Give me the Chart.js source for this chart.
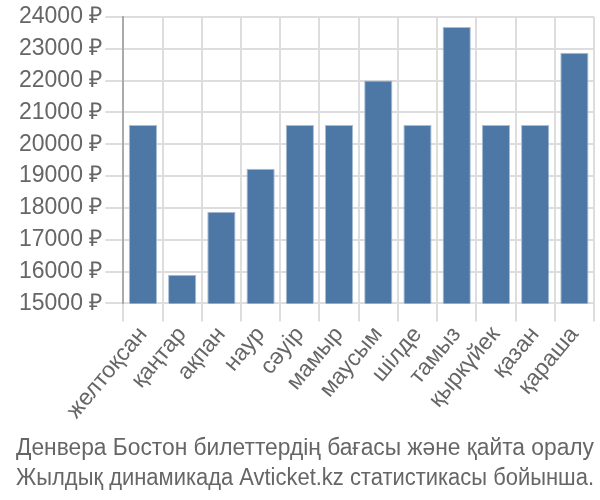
<!DOCTYPE html>
<html lang="kk">
<head>
    <meta charset="UTF-8">
    <title>Денвера Бостон</title>
    <script src="https://cdn.jsdelivr.net/npm/chart.js"></script>
    <style>
        body { margin: 0; padding: 0; background: #fff; }
        #wrap { width: 600px; height: 500px; }
    </style>
</head>
<body>
    <div id="wrap"><canvas id="priceChart"></canvas></div>
    <script>
    const months = ['желтоқсан', 'қаңтар', 'ақпан', 'наур', 'сәуір', 'мамыр',
                    'маусым', 'шілде', 'тамыз', 'қыркүйек', 'қазан', 'қараша'];
    const prices = [20600, 15900, 17880, 19230, 20600, 20600,
                    22000, 20600, 23680, 20600, 20600, 22870];
    const titleLines = ['Денвера Бостон билеттердің бағасы және қайта оралу',
                        'Жылдық динамикада Avticket.kz статистикасы бойынша.'];

    const fam = 'Liberation Sans, Arial, sans-serif';
    const ctx = document.getElementById('priceChart').getContext('2d');
    new Chart(ctx, {
        type: 'bar',
        data: {
            labels: months,
            datasets: [{
                data: prices,
                backgroundColor: '#4d78a6',
                borderColor: '#a9bdd3',
                borderWidth: 1,
                categoryPercentage: 0.72,
                barPercentage: 1
            }]
        },
        options: {
            responsive: true,
            maintainAspectRatio: false,
            animation: false,
            layout: { padding: { top: 4, right: 6, left: 16, bottom: 6 } },
            plugins: {
                legend: { display: false },
                tooltip: { enabled: false },
                title: {
                    display: true,
                    position: 'bottom',
                    text: titleLines,
                    color: '#666',
                    font: { family: fam, size: 23, weight: 'normal', lineHeight: 1.3 },
                    padding: { top: 10, bottom: 0 }
                }
            },
            scales: {
                x: {
                    grid: { color: '#ddd', lineWidth: 2, tickLength: 18, offset: true },
                    border: { color: '#ddd' },
                    ticks: {
                        color: '#666',
                        font: { family: fam, size: 23 },
                        maxRotation: 50, minRotation: 50,
                        autoSkip: false,
                        padding: 0
                    }
                },
                y: {
                    min: 15000, max: 24000,
                    grid: { color: '#ddd', lineWidth: 2, tickLength: 18 },
                    border: { color: '#aaa', width: 2 },
                    ticks: {
                        stepSize: 1000,
                        color: '#666',
                        padding: 3,
                        font: { family: fam, size: 23 },
                        callback: v => v + ' ₽'
                    }
                }
            }
        }
    });
    </script>
</body>
</html>
